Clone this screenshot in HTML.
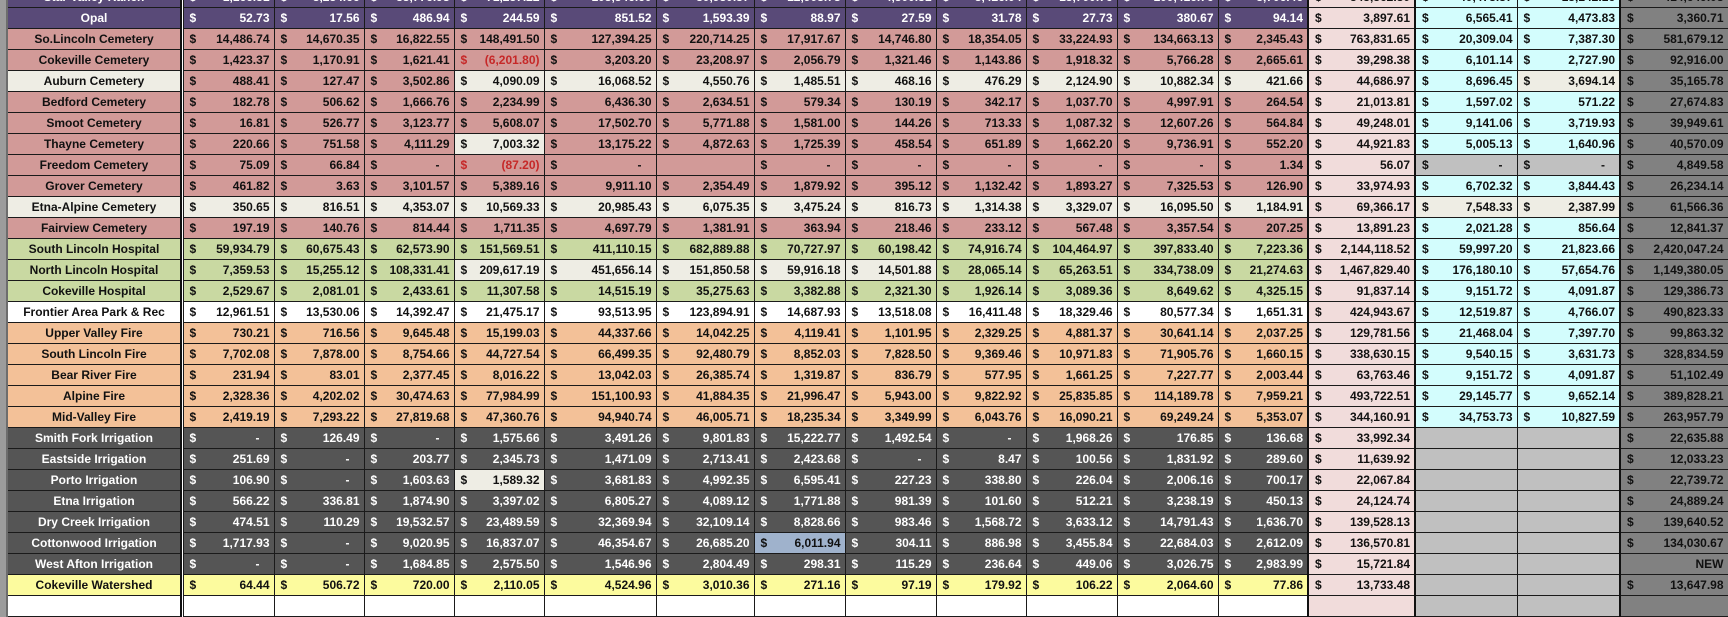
<!DOCTYPE html>
<html><head><meta charset="utf-8">
<style>
html,body{margin:0;padding:0;width:1728px;height:600px;overflow:hidden;background:#fff;}
table{position:absolute;left:0;top:-14px;border-collapse:collapse;table-layout:fixed;width:1728px;
font:bold 12px "Liberation Sans",Arial,sans-serif;color:#111;}
tr{height:21px;}
td{height:20px;line-height:16px;padding:0 4px 0 0;border:1px solid #1a1a1a;text-align:right;white-space:nowrap;overflow:hidden;}
td s{float:left;text-decoration:none;padding-left:6px;}
td.f{background:#9c9c9c;border:none;border-right:2px solid #6d6d6d;padding:0;}
td.x{background:#fff;border-top:none;border-bottom:none;padding:0;}
td.l{text-align:center;padding:0;border-left:2px solid #111;border-right:2px solid #111;}
tr.P td{background:#594a78;color:#fff}
tr.C td{background:#d29a98}
tr.W td{background:#eeede4}
tr.G td{background:#c9d9a2}
tr.F td{background:#fff}
tr.O td{background:#f3c198}
tr.I td{background:#555;color:#fff}
tr.Y td{background:#fcfb9e}
tr.B td{background:#fff}
tr td.k{background:#f1dcdb;color:#111;border-left:2px solid #111;border-right:2px solid #111}
tr td.c{background:#d3fdfd;color:#111}
tr td.g{background:#c0c0c0;color:#111}
tr td.d{background:#818181;color:#111;border-left:2px solid #111}
tr td.w{background:#eeede4;color:#111}
tr td.r{color:#c62828}
tr td.h{background:#9fb2cc;color:#111}
tr td.f{background:#9c9c9c}
tr td.x{background:#fff}
</style></head><body>
<table>
<colgroup><col style="width:7px"><col style="width:174px"><col style="width:2px"><col style="width:91px"><col style="width:90px"><col style="width:90px"><col style="width:90px"><col style="width:112px"><col style="width:98px"><col style="width:91px"><col style="width:91px"><col style="width:90px"><col style="width:91px"><col style="width:101px"><col style="width:90px"><col style="width:107px"><col style="width:102px"><col style="width:103px"><col style="width:108px"></colgroup>
<tr class="P"><td class="f"></td><td class="l">Star Valley Ranch</td><td class="x"></td><td><s>$</s>1,166.51</td><td><s>$</s>3,254.66</td><td><s>$</s>35,776.98</td><td><s>$</s>71,257.22</td><td><s>$</s>105,546.60</td><td><s>$</s>30,930.57</td><td><s>$</s>12,908.78</td><td><s>$</s>4,500.51</td><td><s>$</s>3,426.04</td><td><s>$</s>13,700.76</td><td><s>$</s>100,416.76</td><td><s>$</s>3,706.46</td><td class="k"><s>$</s>345,362.80</td><td class="c"><s>$</s>40,478.87</td><td class="c"><s>$</s>15,142.16</td><td class="d"><s>$</s>414,649.08</td></tr>
<tr class="P"><td class="f"></td><td class="l">Opal</td><td class="x"></td><td><s>$</s>52.73</td><td><s>$</s>17.56</td><td><s>$</s>486.94</td><td><s>$</s>244.59</td><td><s>$</s>851.52</td><td><s>$</s>1,593.39</td><td><s>$</s>88.97</td><td><s>$</s>27.59</td><td><s>$</s>31.78</td><td><s>$</s>27.73</td><td><s>$</s>380.67</td><td><s>$</s>94.14</td><td class="k"><s>$</s>3,897.61</td><td class="c"><s>$</s>6,565.41</td><td class="c"><s>$</s>4,473.83</td><td class="d"><s>$</s>3,360.71</td></tr>
<tr class="C"><td class="f"></td><td class="l">So.Lincoln Cemetery</td><td class="x"></td><td><s>$</s>14,486.74</td><td><s>$</s>14,670.35</td><td><s>$</s>16,822.55</td><td><s>$</s>148,491.50</td><td><s>$</s>127,394.25</td><td><s>$</s>220,714.25</td><td><s>$</s>17,917.67</td><td><s>$</s>14,746.80</td><td><s>$</s>18,354.05</td><td><s>$</s>33,224.93</td><td><s>$</s>134,663.13</td><td><s>$</s>2,345.43</td><td class="k"><s>$</s>763,831.65</td><td class="c"><s>$</s>20,309.04</td><td class="c"><s>$</s>7,387.30</td><td class="d"><s>$</s>581,679.12</td></tr>
<tr class="C"><td class="f"></td><td class="l">Cokeville Cemetery</td><td class="x"></td><td><s>$</s>1,423.37</td><td><s>$</s>1,170.91</td><td><s>$</s>1,621.41</td><td class="r"><s>$</s>(6,201.80)</td><td><s>$</s>3,203.20</td><td><s>$</s>23,208.97</td><td><s>$</s>2,056.79</td><td><s>$</s>1,321.46</td><td><s>$</s>1,143.86</td><td><s>$</s>1,918.32</td><td><s>$</s>5,766.28</td><td><s>$</s>2,665.61</td><td class="k"><s>$</s>39,298.38</td><td class="c"><s>$</s>6,101.14</td><td class="c"><s>$</s>2,727.90</td><td class="d"><s>$</s>92,916.00</td></tr>
<tr class="C"><td class="f"></td><td class="l w">Auburn Cemetery</td><td class="x"></td><td><s>$</s>488.41</td><td><s>$</s>127.47</td><td><s>$</s>3,502.86</td><td class="w"><s>$</s>4,090.09</td><td class="w"><s>$</s>16,068.52</td><td class="w"><s>$</s>4,550.76</td><td class="w"><s>$</s>1,485.51</td><td class="w"><s>$</s>468.16</td><td class="w"><s>$</s>476.29</td><td class="w"><s>$</s>2,124.90</td><td class="w"><s>$</s>10,882.34</td><td class="w"><s>$</s>421.66</td><td class="k"><s>$</s>44,686.97</td><td class="c"><s>$</s>8,696.45</td><td class="w"><s>$</s>3,694.14</td><td class="d"><s>$</s>35,165.78</td></tr>
<tr class="C"><td class="f"></td><td class="l">Bedford Cemetery</td><td class="x"></td><td><s>$</s>182.78</td><td><s>$</s>506.62</td><td><s>$</s>1,666.76</td><td><s>$</s>2,234.99</td><td><s>$</s>6,436.30</td><td><s>$</s>2,634.51</td><td><s>$</s>579.34</td><td><s>$</s>130.19</td><td><s>$</s>342.17</td><td><s>$</s>1,037.70</td><td><s>$</s>4,997.91</td><td><s>$</s>264.54</td><td class="k"><s>$</s>21,013.81</td><td class="c"><s>$</s>1,597.02</td><td class="c"><s>$</s>571.22</td><td class="d"><s>$</s>27,674.83</td></tr>
<tr class="C"><td class="f"></td><td class="l">Smoot Cemetery</td><td class="x"></td><td><s>$</s>16.81</td><td><s>$</s>526.77</td><td><s>$</s>3,123.77</td><td><s>$</s>5,608.07</td><td><s>$</s>17,502.70</td><td><s>$</s>5,771.88</td><td><s>$</s>1,581.00</td><td><s>$</s>144.26</td><td><s>$</s>713.33</td><td><s>$</s>1,087.32</td><td><s>$</s>12,607.26</td><td><s>$</s>564.84</td><td class="k"><s>$</s>49,248.01</td><td class="c"><s>$</s>9,141.06</td><td class="c"><s>$</s>3,719.93</td><td class="d"><s>$</s>39,949.61</td></tr>
<tr class="C"><td class="f"></td><td class="l">Thayne Cemetery</td><td class="x"></td><td><s>$</s>220.66</td><td><s>$</s>751.58</td><td><s>$</s>4,111.29</td><td class="w"><s>$</s>7,003.32</td><td><s>$</s>13,175.22</td><td><s>$</s>4,872.63</td><td><s>$</s>1,725.39</td><td><s>$</s>458.54</td><td><s>$</s>651.89</td><td><s>$</s>1,662.20</td><td><s>$</s>9,736.91</td><td><s>$</s>552.20</td><td class="k"><s>$</s>44,921.83</td><td class="c"><s>$</s>5,005.13</td><td class="c"><s>$</s>1,640.96</td><td class="d"><s>$</s>40,570.09</td></tr>
<tr class="C"><td class="f"></td><td class="l">Freedom Cemetery</td><td class="x"></td><td><s>$</s>75.09</td><td><s>$</s>66.84</td><td><s>$</s>-&nbsp;&nbsp;&nbsp;</td><td class="r"><s>$</s>(87.20)</td><td><s>$</s>-&nbsp;&nbsp;&nbsp;</td><td></td><td><s>$</s>-&nbsp;&nbsp;&nbsp;</td><td><s>$</s>-&nbsp;&nbsp;&nbsp;</td><td><s>$</s>-&nbsp;&nbsp;&nbsp;</td><td><s>$</s>-&nbsp;&nbsp;&nbsp;</td><td><s>$</s>-&nbsp;&nbsp;&nbsp;</td><td><s>$</s>1.34</td><td class="k"><s>$</s>56.07</td><td class="g"><s>$</s>-&nbsp;&nbsp;&nbsp;</td><td class="g"><s>$</s>-&nbsp;&nbsp;&nbsp;</td><td class="d"><s>$</s>4,849.58</td></tr>
<tr class="C"><td class="f"></td><td class="l">Grover Cemetery</td><td class="x"></td><td><s>$</s>461.82</td><td><s>$</s>3.63</td><td><s>$</s>3,101.57</td><td><s>$</s>5,389.16</td><td><s>$</s>9,911.10</td><td><s>$</s>2,354.49</td><td><s>$</s>1,879.92</td><td><s>$</s>395.12</td><td><s>$</s>1,132.42</td><td><s>$</s>1,893.27</td><td><s>$</s>7,325.53</td><td><s>$</s>126.90</td><td class="k"><s>$</s>33,974.93</td><td class="c"><s>$</s>6,702.32</td><td class="c"><s>$</s>3,844.43</td><td class="d"><s>$</s>26,234.14</td></tr>
<tr class="W"><td class="f"></td><td class="l">Etna-Alpine Cemetery</td><td class="x"></td><td><s>$</s>350.65</td><td><s>$</s>816.51</td><td><s>$</s>4,353.07</td><td><s>$</s>10,569.33</td><td><s>$</s>20,985.43</td><td><s>$</s>6,075.35</td><td><s>$</s>3,475.24</td><td><s>$</s>816.73</td><td><s>$</s>1,314.38</td><td><s>$</s>3,329.07</td><td><s>$</s>16,095.50</td><td><s>$</s>1,184.91</td><td class="k"><s>$</s>69,366.17</td><td class="w"><s>$</s>7,548.33</td><td class="w"><s>$</s>2,387.99</td><td class="d"><s>$</s>61,566.36</td></tr>
<tr class="C"><td class="f"></td><td class="l">Fairview Cemetery</td><td class="x"></td><td><s>$</s>197.19</td><td><s>$</s>140.76</td><td><s>$</s>814.44</td><td><s>$</s>1,711.35</td><td><s>$</s>4,697.79</td><td><s>$</s>1,381.91</td><td><s>$</s>363.94</td><td><s>$</s>218.46</td><td><s>$</s>233.12</td><td><s>$</s>567.48</td><td><s>$</s>3,357.54</td><td><s>$</s>207.25</td><td class="k"><s>$</s>13,891.23</td><td class="c"><s>$</s>2,021.28</td><td class="c"><s>$</s>856.64</td><td class="d"><s>$</s>12,841.37</td></tr>
<tr class="G"><td class="f"></td><td class="l">South Lincoln Hospital</td><td class="x"></td><td><s>$</s>59,934.79</td><td><s>$</s>60,675.43</td><td><s>$</s>62,573.90</td><td><s>$</s>151,569.51</td><td><s>$</s>411,110.15</td><td><s>$</s>682,889.88</td><td><s>$</s>70,727.97</td><td><s>$</s>60,198.42</td><td><s>$</s>74,916.74</td><td><s>$</s>104,464.97</td><td><s>$</s>397,833.40</td><td><s>$</s>7,223.36</td><td class="k"><s>$</s>2,144,118.52</td><td class="c"><s>$</s>59,997.20</td><td class="c"><s>$</s>21,823.66</td><td class="d"><s>$</s>2,420,047.24</td></tr>
<tr class="G"><td class="f"></td><td class="l">North Lincoln Hospital</td><td class="x"></td><td><s>$</s>7,359.53</td><td><s>$</s>15,255.12</td><td><s>$</s>108,331.41</td><td class="w"><s>$</s>209,617.19</td><td class="w"><s>$</s>451,656.14</td><td class="w"><s>$</s>151,850.58</td><td class="w"><s>$</s>59,916.18</td><td class="w"><s>$</s>14,501.88</td><td><s>$</s>28,065.14</td><td><s>$</s>65,263.51</td><td><s>$</s>334,738.09</td><td><s>$</s>21,274.63</td><td class="k"><s>$</s>1,467,829.40</td><td class="c"><s>$</s>176,180.10</td><td class="c"><s>$</s>57,654.76</td><td class="d"><s>$</s>1,149,380.05</td></tr>
<tr class="G"><td class="f"></td><td class="l">Cokeville Hospital</td><td class="x"></td><td><s>$</s>2,529.67</td><td><s>$</s>2,081.01</td><td><s>$</s>2,433.61</td><td><s>$</s>11,307.58</td><td><s>$</s>14,515.19</td><td><s>$</s>35,275.63</td><td><s>$</s>3,382.88</td><td><s>$</s>2,321.30</td><td><s>$</s>1,926.14</td><td><s>$</s>3,089.36</td><td><s>$</s>8,649.62</td><td><s>$</s>4,325.15</td><td class="k"><s>$</s>91,837.14</td><td class="c"><s>$</s>9,151.72</td><td class="c"><s>$</s>4,091.87</td><td class="d"><s>$</s>129,386.73</td></tr>
<tr class="F"><td class="f"></td><td class="l">Frontier Area Park &amp; Rec</td><td class="x"></td><td><s>$</s>12,961.51</td><td><s>$</s>13,530.06</td><td><s>$</s>14,392.47</td><td><s>$</s>21,475.17</td><td><s>$</s>93,513.95</td><td><s>$</s>123,894.91</td><td><s>$</s>14,687.93</td><td><s>$</s>13,518.08</td><td><s>$</s>16,411.48</td><td><s>$</s>18,329.46</td><td><s>$</s>80,577.34</td><td><s>$</s>1,651.31</td><td class="k"><s>$</s>424,943.67</td><td class="c"><s>$</s>12,519.87</td><td class="c"><s>$</s>4,766.07</td><td class="d"><s>$</s>490,823.33</td></tr>
<tr class="O"><td class="f"></td><td class="l">Upper Valley Fire</td><td class="x"></td><td><s>$</s>730.21</td><td><s>$</s>716.56</td><td><s>$</s>9,645.48</td><td><s>$</s>15,199.03</td><td><s>$</s>44,337.66</td><td><s>$</s>14,042.25</td><td><s>$</s>4,119.41</td><td><s>$</s>1,101.95</td><td><s>$</s>2,329.25</td><td><s>$</s>4,881.37</td><td><s>$</s>30,641.14</td><td><s>$</s>2,037.25</td><td class="k"><s>$</s>129,781.56</td><td class="c"><s>$</s>21,468.04</td><td class="c"><s>$</s>7,397.70</td><td class="d"><s>$</s>99,863.32</td></tr>
<tr class="O"><td class="f"></td><td class="l">South Lincoln Fire</td><td class="x"></td><td><s>$</s>7,702.08</td><td><s>$</s>7,878.00</td><td><s>$</s>8,754.66</td><td><s>$</s>44,727.54</td><td><s>$</s>66,499.35</td><td><s>$</s>92,480.79</td><td><s>$</s>8,852.03</td><td><s>$</s>7,828.50</td><td><s>$</s>9,369.46</td><td><s>$</s>10,971.83</td><td><s>$</s>71,905.76</td><td><s>$</s>1,660.15</td><td class="k"><s>$</s>338,630.15</td><td class="c"><s>$</s>9,540.15</td><td class="c"><s>$</s>3,631.73</td><td class="d"><s>$</s>328,834.59</td></tr>
<tr class="O"><td class="f"></td><td class="l">Bear River Fire</td><td class="x"></td><td><s>$</s>231.94</td><td><s>$</s>83.01</td><td><s>$</s>2,377.45</td><td><s>$</s>8,016.22</td><td><s>$</s>13,042.03</td><td><s>$</s>26,385.74</td><td><s>$</s>1,319.87</td><td><s>$</s>836.79</td><td><s>$</s>577.95</td><td><s>$</s>1,661.25</td><td><s>$</s>7,227.77</td><td><s>$</s>2,003.44</td><td class="k"><s>$</s>63,763.46</td><td class="c"><s>$</s>9,151.72</td><td class="c"><s>$</s>4,091.87</td><td class="d"><s>$</s>51,102.49</td></tr>
<tr class="O"><td class="f"></td><td class="l">Alpine Fire</td><td class="x"></td><td><s>$</s>2,328.36</td><td><s>$</s>4,202.02</td><td><s>$</s>30,474.63</td><td><s>$</s>77,984.99</td><td><s>$</s>151,100.93</td><td><s>$</s>41,884.35</td><td><s>$</s>21,996.47</td><td><s>$</s>5,943.00</td><td><s>$</s>9,822.92</td><td><s>$</s>25,835.85</td><td><s>$</s>114,189.78</td><td><s>$</s>7,959.21</td><td class="k"><s>$</s>493,722.51</td><td class="c"><s>$</s>29,145.77</td><td class="c"><s>$</s>9,652.14</td><td class="d"><s>$</s>389,828.21</td></tr>
<tr class="O"><td class="f"></td><td class="l">Mid-Valley Fire</td><td class="x"></td><td><s>$</s>2,419.19</td><td><s>$</s>7,293.22</td><td><s>$</s>27,819.68</td><td><s>$</s>47,360.76</td><td><s>$</s>94,940.74</td><td><s>$</s>46,005.71</td><td><s>$</s>18,235.34</td><td><s>$</s>3,349.99</td><td><s>$</s>6,043.76</td><td><s>$</s>16,090.21</td><td><s>$</s>69,249.24</td><td><s>$</s>5,353.07</td><td class="k"><s>$</s>344,160.91</td><td class="c"><s>$</s>34,753.73</td><td class="c"><s>$</s>10,827.59</td><td class="d"><s>$</s>263,957.79</td></tr>
<tr class="I"><td class="f"></td><td class="l">Smith Fork Irrigation</td><td class="x"></td><td><s>$</s>-&nbsp;&nbsp;&nbsp;</td><td><s>$</s>126.49</td><td><s>$</s>-&nbsp;&nbsp;&nbsp;</td><td><s>$</s>1,575.66</td><td><s>$</s>3,491.26</td><td><s>$</s>9,801.83</td><td><s>$</s>15,222.77</td><td><s>$</s>1,492.54</td><td><s>$</s>-&nbsp;&nbsp;&nbsp;</td><td><s>$</s>1,968.26</td><td><s>$</s>176.85</td><td><s>$</s>136.68</td><td class="k"><s>$</s>33,992.34</td><td class="g"></td><td class="g"></td><td class="d"><s>$</s>22,635.88</td></tr>
<tr class="I"><td class="f"></td><td class="l">Eastside Irrigation</td><td class="x"></td><td><s>$</s>251.69</td><td><s>$</s>-&nbsp;&nbsp;&nbsp;</td><td><s>$</s>203.77</td><td><s>$</s>2,345.73</td><td><s>$</s>1,471.09</td><td><s>$</s>2,713.41</td><td><s>$</s>2,423.68</td><td><s>$</s>-&nbsp;&nbsp;&nbsp;</td><td><s>$</s>8.47</td><td><s>$</s>100.56</td><td><s>$</s>1,831.92</td><td><s>$</s>289.60</td><td class="k"><s>$</s>11,639.92</td><td class="g"></td><td class="g"></td><td class="d"><s>$</s>12,033.23</td></tr>
<tr class="I"><td class="f"></td><td class="l">Porto Irrigation</td><td class="x"></td><td><s>$</s>106.90</td><td><s>$</s>-&nbsp;&nbsp;&nbsp;</td><td><s>$</s>1,603.63</td><td class="w"><s>$</s>1,589.32</td><td><s>$</s>3,681.83</td><td><s>$</s>4,992.35</td><td><s>$</s>6,595.41</td><td><s>$</s>227.23</td><td><s>$</s>338.80</td><td><s>$</s>226.04</td><td><s>$</s>2,006.16</td><td><s>$</s>700.17</td><td class="k"><s>$</s>22,067.84</td><td class="g"></td><td class="g"></td><td class="d"><s>$</s>22,739.72</td></tr>
<tr class="I"><td class="f"></td><td class="l">Etna Irrigation</td><td class="x"></td><td><s>$</s>566.22</td><td><s>$</s>336.81</td><td><s>$</s>1,874.90</td><td><s>$</s>3,397.02</td><td><s>$</s>6,805.27</td><td><s>$</s>4,089.12</td><td><s>$</s>1,771.88</td><td><s>$</s>981.39</td><td><s>$</s>101.60</td><td><s>$</s>512.21</td><td><s>$</s>3,238.19</td><td><s>$</s>450.13</td><td class="k"><s>$</s>24,124.74</td><td class="g"></td><td class="g"></td><td class="d"><s>$</s>24,889.24</td></tr>
<tr class="I"><td class="f"></td><td class="l">Dry Creek Irrigation</td><td class="x"></td><td><s>$</s>474.51</td><td><s>$</s>110.29</td><td><s>$</s>19,532.57</td><td><s>$</s>23,489.59</td><td><s>$</s>32,369.94</td><td><s>$</s>32,109.14</td><td><s>$</s>8,828.66</td><td><s>$</s>983.46</td><td><s>$</s>1,568.72</td><td><s>$</s>3,633.12</td><td><s>$</s>14,791.43</td><td><s>$</s>1,636.70</td><td class="k"><s>$</s>139,528.13</td><td class="g"></td><td class="g"></td><td class="d"><s>$</s>139,640.52</td></tr>
<tr class="I"><td class="f"></td><td class="l">Cottonwood Irrigation</td><td class="x"></td><td><s>$</s>1,717.93</td><td><s>$</s>-&nbsp;&nbsp;&nbsp;</td><td><s>$</s>9,020.95</td><td><s>$</s>16,837.07</td><td><s>$</s>46,354.67</td><td><s>$</s>26,685.20</td><td class="h"><s>$</s>6,011.94</td><td><s>$</s>304.11</td><td><s>$</s>886.98</td><td><s>$</s>3,455.84</td><td><s>$</s>22,684.03</td><td><s>$</s>2,612.09</td><td class="k"><s>$</s>136,570.81</td><td class="g"></td><td class="g"></td><td class="d"><s>$</s>134,030.67</td></tr>
<tr class="I"><td class="f"></td><td class="l">West Afton Irrigation</td><td class="x"></td><td><s>$</s>-&nbsp;&nbsp;&nbsp;</td><td><s>$</s>-&nbsp;&nbsp;&nbsp;</td><td><s>$</s>1,684.85</td><td><s>$</s>2,575.50</td><td><s>$</s>1,546.96</td><td><s>$</s>2,804.49</td><td><s>$</s>298.31</td><td><s>$</s>115.29</td><td><s>$</s>236.64</td><td><s>$</s>449.06</td><td><s>$</s>3,026.75</td><td><s>$</s>2,983.99</td><td class="k"><s>$</s>15,721.84</td><td class="g"></td><td class="g"></td><td class="d">NEW</td></tr>
<tr class="Y"><td class="f"></td><td class="l">Cokeville Watershed</td><td class="x"></td><td><s>$</s>64.44</td><td><s>$</s>506.72</td><td><s>$</s>720.00</td><td><s>$</s>2,110.05</td><td><s>$</s>4,524.96</td><td><s>$</s>3,010.36</td><td><s>$</s>271.16</td><td><s>$</s>97.19</td><td><s>$</s>179.92</td><td><s>$</s>106.22</td><td><s>$</s>2,064.60</td><td><s>$</s>77.86</td><td class="k"><s>$</s>13,733.48</td><td class="g"></td><td class="g"></td><td class="d"><s>$</s>13,647.98</td></tr>
<tr class="B"><td class="f"></td><td class="l"></td><td class="x"></td><td></td><td></td><td></td><td></td><td></td><td></td><td></td><td></td><td></td><td></td><td></td><td></td><td class="k"></td><td class="g"></td><td class="g"></td><td class="d"></td></tr>
</table>
</body></html>
